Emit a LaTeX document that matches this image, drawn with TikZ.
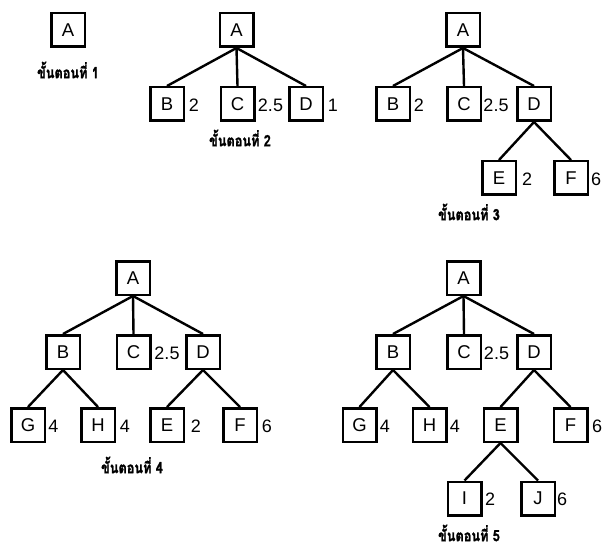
\documentclass[tikz,border=0pt]{standalone}
\usepackage{fontspec}
\setmainfont{Liberation Sans}
\newfontfamily\thaifont[Script=Thai,FakeStretch=0.82,FakeBold=1.5]{Loma}
\begin{document}
\begin{tikzpicture}[x=1pt,y=-1pt,
  box/.style={draw, line width=2.5pt, minimum size=33.5pt, inner sep=0pt, font=\fontsize{18.5}{18.5}\selectfont},
  num/.style={inner sep=0pt, font=\fontsize{18}{18}\selectfont},
  steptext/.style={inner sep=0pt, font=\thaifont\bfseries\fontsize{15.5}{16}\selectfont},
  conn/.style={line width=2.4pt}]
\useasboundingbox (0,0) rectangle (605,548);
% Step 1
\node[box] (a1) at (68,30) {A};
\node[steptext] (c1) at (68,70) {ขั้นตอนที่ 1};
% Step 2
\node[box] (a2) at (236.5,30) {A};
\node[box] (b2) at (167,104) {B};
\node[box] (cc2) at (237.5,104) {C};
\node[box] (d2) at (306,104) {D};
\node[num] (nb2) at (194,105) {2};
\node[num] (nc2) at (270.5,105) {2.5};
\node[num] (nd2) at (333,105) {1};
\node[steptext] (c2) at (240,138) {ขั้นตอนที่ 2};
\foreach \c in {b2,cc2,d2} \draw[conn] (a2.south) -- (\c.north);
% Step 3
\node[box] (a3) at (463,30) {A};
\node[box] (b3) at (393,104) {B};
\node[box] (cc3) at (464,104) {C};
\node[box] (d3) at (534,104) {D};
\node[box] (e3) at (499,178) {E};
\node[box] (f3) at (571,178) {F};
\node[num] (nb3) at (419,105) {2};
\node[num] (nc3) at (496,105) {2.5};
\node[num] (ne3) at (527,179) {2};
\node[num] (nf3) at (596,179) {6};
\node[steptext] (c3) at (469,212) {ขั้นตอนที่ 3};
\foreach \c in {b3,cc3,d3} \draw[conn] (a3.south) -- (\c.north);
\foreach \c in {e3,f3} \draw[conn] (d3.south) -- (\c.north);
% Step 4
\node[box] (a4) at (133,278) {A};
\node[box] (b4) at (63,352) {B};
\node[box] (cc4) at (133.5,352) {C};
\node[box] (d4) at (203,352) {D};
\node[box] (g4) at (28,425) {G};
\node[box] (h4) at (98,425) {H};
\node[box] (e4) at (167,425) {E};
\node[box] (f4) at (240,425) {F};
\node[num] (nc4) at (167,353) {2.5};
\node[num] (ng4) at (53.5,426) {4};
\node[num] (nh4) at (125,426) {4};
\node[num] (ne4) at (196,426) {2};
\node[num] (nf4) at (267,426) {6};
\node[steptext] (c4) at (132,465) {ขั้นตอนที่ 4};
\foreach \c in {b4,cc4,d4} \draw[conn] (a4.south) -- (\c.north);
\foreach \c in {g4,h4} \draw[conn] (b4.south) -- (\c.north);
\foreach \c in {e4,f4} \draw[conn] (d4.south) -- (\c.north);
% Step 5
\node[box] (a5) at (463.5,278) {A};
\node[box] (b5) at (393,352) {B};
\node[box] (cc5) at (464,352) {C};
\node[box] (d5) at (534,352) {D};
\node[box] (g5) at (359.5,425) {G};
\node[box] (h5) at (429.5,425) {H};
\node[box] (e5) at (500.5,425) {E};
\node[box] (f5) at (570.5,425) {F};
\node[box] (i5) at (464.5,498.5) {I};
\node[box] (j5) at (538,498.5) {J};
\node[num] (nc5) at (496.5,353) {2.5};
\node[num] (ng5) at (385,426) {4};
\node[num] (nh5) at (455,426) {4};
\node[num] (nf5) at (597,426) {6};
\node[num] (ni5) at (490,499.5) {2};
\node[num] (nj5) at (562,499.5) {6};
\node[steptext] (c5) at (469,533) {ขั้นตอนที่ 5};
\foreach \c in {b5,cc5,d5} \draw[conn] (a5.south) -- (\c.north);
\foreach \c in {g5,h5} \draw[conn] (b5.south) -- (\c.north);
\foreach \c in {e5,f5} \draw[conn] (d5.south) -- (\c.north);
\foreach \c in {i5,j5} \draw[conn] (e5.south) -- (\c.north);
\end{tikzpicture}
\end{document}
